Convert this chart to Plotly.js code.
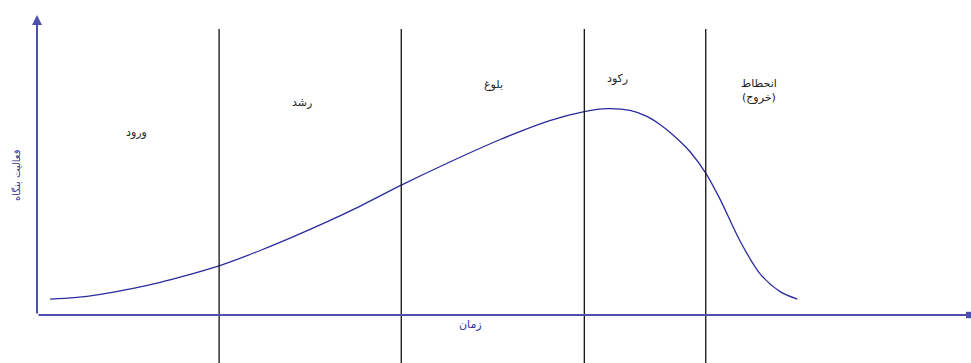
<!DOCTYPE html>
<html>
<head>
<meta charset="utf-8">
<script src="https://cdn.plot.ly/plotly-3.0.1.min.js"></script>
<style>
  body { margin: 0; background: #fff; }
  #chart { width: 971px; height: 363px; }
</style>
</head>
<body>
<div id="chart"></div>
<script>
// product life cycle curve (time vs. firm activity)
const time = [1.4, 4.0, 6.8, 10.3, 13.2, 16.1, 19.5, 23.9, 28.2, 33.5, 39.0, 44.2, 49.6, 54.9, 58.6, 61.0, 63.5, 65.3, 66.7, 68.1, 69.9, 71.6, 73.1, 75.3, 77.4, 79.6, 81.4]
const activity = [5.3, 5.8, 6.9, 8.9, 10.9, 13.3, 16.4, 21.5, 27.1, 34.6, 43.3, 51, 58.5, 64.8, 67.8, 68.8, 68.2, 66.2, 63.5, 60, 54.5, 47.3, 38.8, 24.5, 13.8, 7.7, 5.3]

// phase boundaries on the time axis
const boundaries = [19.5, 39.0, 58.6, 71.6]

// phase labels
const phase_names = ['ورود', 'رشد', 'بلوغ', 'رکود', 'انحطاط<br>(خروج)']
const phase_x = [10.7, 28.4, 48.9, 62.1, 77.3]
const phase_y = [61, 70.7, 77, 78.7, 74.7]

const x_title = 'زمان'
const y_title = 'فعالیت بنگاه'

const axis_color = '#4f4faf'
const font_family = 'DejaVu Sans, Liberation Sans, sans-serif'

const curve = {
    x: time,
    y: activity,
    type: 'scatter',
    mode: 'lines',
    line: { color: '#2a2aa0', width: 1.3, shape: 'spline', smoothing: 0.8 },
    hoverinfo: 'skip'
}

const shapes = boundaries.map(b => ({
    type: 'line',
    xref: 'x', yref: 'y',
    x0: b, x1: b, y0: -16, y1: 95.3,
    line: { color: '#111', width: 1.3 }
}))

const annotations = phase_names.map((name, i) => ({
    x: phase_x[i], y: phase_y[i],
    xref: 'x', yref: 'y',
    text: name,
    showarrow: false,
    font: { family: font_family, size: 11, color: '#222' }
}))

// axis arrows
annotations.push({
    x: 0, y: 100, xref: 'x', yref: 'y',
    ax: 0, ay: 0, axref: 'x', ayref: 'y',
    text: '', showarrow: true,
    arrowhead: 2, arrowsize: 1, arrowwidth: 2, arrowcolor: axis_color
})
annotations.push({
    x: 99.8, y: 0, xref: 'x', yref: 'y',
    ax: 0, ay: 0, axref: 'x', ayref: 'y',
    text: '', showarrow: true,
    arrowhead: 7, arrowsize: 0.8, arrowwidth: 2, arrowcolor: axis_color
})

// axis titles
annotations.push({
    x: 46.4, y: -3, xref: 'x', yref: 'y',
    text: x_title, showarrow: false,
    font: { family: font_family, size: 11, color: '#3030a0' }
})
annotations.push({
    x: 0, y: 46.7, xref: 'paper', yref: 'y', xanchor: 'center',
    xshift: -20,
    text: y_title, showarrow: false, textangle: -90,
    font: { family: font_family, size: 10, color: '#3030a0' }
})

const layout = {
    width: 971,
    height: 363,
    margin: { l: 37, r: 0, t: 15, b: 0 },
    paper_bgcolor: '#fff',
    plot_bgcolor: '#fff',
    showlegend: false,
    xaxis: { range: [0, 100], visible: false, fixedrange: true },
    yaxis: { range: [-16, 100], visible: false, fixedrange: true },
    shapes: shapes,
    annotations: annotations
}

Plotly.newPlot('chart', [curve], layout, { staticPlot: true })
</script>
</body>
</html>
